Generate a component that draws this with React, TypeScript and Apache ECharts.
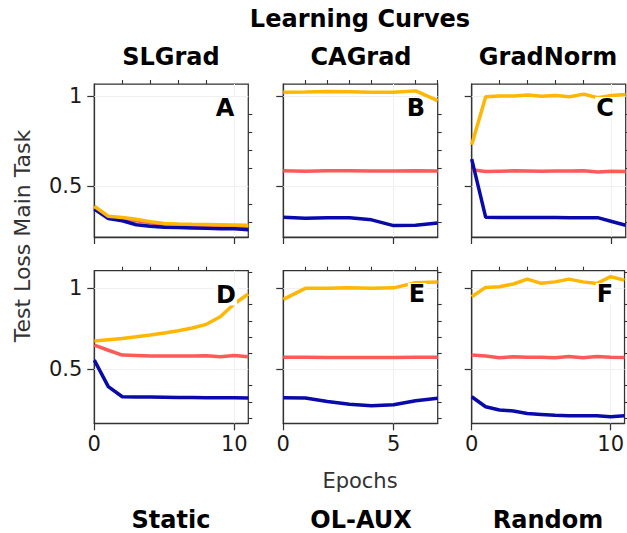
import React, { useEffect, useRef } from "react";
import * as echarts from "echarts";

const epochsLong = [0, 1, 2, 3, 4, 5, 6, 7, 8, 9, 10, 11];
const epochsShort = [0, 1, 2, 3, 4, 5, 6, 7];

const panelLetters = ["A", "B", "C", "D", "E", "F"];
const columnTitles = ["SLGrad", "CAGrad", "GradNorm"];
const rowTitles = ["Static", "OL-AUX", "Random"];

const yellowA = [0.39, 0.335, 0.328, 0.318, 0.305, 0.295, 0.292, 0.29, 0.289, 0.288, 0.287, 0.285];
const redA = [0.385, 0.33, 0.322, 0.31, 0.298, 0.288, 0.285, 0.283, 0.282, 0.281, 0.28, 0.278];
const blueA = [0.375, 0.322, 0.31, 0.288, 0.28, 0.274, 0.272, 0.27, 0.268, 0.265, 0.266, 0.26];

const yellowB = [1.021, 1.022, 1.024, 1.023, 1.021, 1.021, 1.028, 0.974];
const redB = [0.586, 0.584, 0.587, 0.586, 0.585, 0.585, 0.586, 0.585];
const blueB = [0.329, 0.324, 0.326, 0.326, 0.315, 0.283, 0.285, 0.298];

const yellowC = [0.73, 0.996, 1.0, 1.0, 1.005, 0.998, 1.003, 0.996, 1.01, 0.99, 1.003, 1.008];
const redC = [0.592, 0.582, 0.584, 0.586, 0.585, 0.584, 0.585, 0.585, 0.586, 0.58, 0.583, 0.582];
const blueC = [0.651, 0.329, 0.328, 0.328, 0.328, 0.328, 0.328, 0.327, 0.327, 0.327, 0.306, 0.285];

const yellowD = [0.675, 0.683, 0.691, 0.701, 0.712, 0.724, 0.738, 0.755, 0.778, 0.825, 0.905, 0.965];
const redD = [0.65, 0.618, 0.588, 0.585, 0.582, 0.582, 0.582, 0.583, 0.584, 0.578, 0.585, 0.578];
const blueD = [0.557, 0.393, 0.331, 0.33, 0.329, 0.328, 0.327, 0.326, 0.325, 0.325, 0.324, 0.323];

const yellowE = [0.932, 1.0, 1.0, 1.003, 1.0, 1.003, 1.035, 1.04];
const redE = [0.574, 0.574, 0.573, 0.573, 0.573, 0.573, 0.574, 0.574];
const blueE = [0.325, 0.323, 0.302, 0.284, 0.275, 0.281, 0.306, 0.321];

const yellowF = [0.948, 1.006, 1.01, 1.027, 1.057, 1.031, 1.04, 1.057, 1.04, 1.03, 1.072, 1.051];
const redF = [0.588, 0.583, 0.572, 0.578, 0.575, 0.574, 0.572, 0.58, 0.572, 0.579, 0.575, 0.573];
const blueF = [0.331, 0.269, 0.249, 0.243, 0.228, 0.222, 0.216, 0.214, 0.213, 0.213, 0.208, 0.214];

const majorYTicks = [0.5, 1];
const minorYTicksTop = [0.3, 0.4, 0.6, 0.7, 0.8, 0.9];
const minorYTicksBottom = [0.2, 0.3, 0.4, 0.6, 0.7, 0.8, 0.9, 1.1];
const majorXTicksLong = [0, 10];
const minorXTicksLong = [2, 4, 6, 8];
const majorXTicksShort = [0, 5];
const minorXTicksShort = [1, 2, 3, 4, 6, 7];

const YELLOW = "#ffb703";
const RED = "#ff5a5a";
const BLUE = "#0a0aaa";
const FONT = "DejaVu Sans";
const AXIS = "#333333";

type Panel = {
  x: number[];
  yellow: number[];
  red: number[];
  blue: number[];
  long: boolean;
};

const panels: Panel[] = [
  { x: epochsLong, yellow: yellowA, red: redA, blue: blueA, long: true },
  { x: epochsShort, yellow: yellowB, red: redB, blue: blueB, long: false },
  { x: epochsLong, yellow: yellowC, red: redC, blue: blueC, long: true },
  { x: epochsLong, yellow: yellowD, red: redD, blue: blueD, long: true },
  { x: epochsShort, yellow: yellowE, red: redE, blue: blueE, long: false },
  { x: epochsLong, yellow: yellowF, red: redF, blue: blueF, long: true },
];

const colLeft = [94.3, 283.3, 471.7];
const colWidth = [154, 154.4, 154];
const rowTop = [84, 270.7];
const rowHeight = [153, 152.6];
const rowMin = [0.22, 0.167];
const rowMax = [1.066, 1.109];
const letterPos = [
  [225, 107.5],
  [416, 107.5],
  [605, 107.5],
  [226, 295],
  [417, 293.5],
  [605, 293.5],
];

export default function App() {
  const ref = useRef<HTMLDivElement>(null);

  useEffect(() => {
    if (!ref.current) return;
    const chart = echarts.init(ref.current, undefined, { renderer: "svg" });

    const grid: any[] = [];
    const xAxis: any[] = [];
    const yAxis: any[] = [];
    const series: any[] = [];
    const graphic: any[] = [];

    panels.forEach((p, i) => {
      const row = Math.floor(i / 3);
      const col = i % 3;
      grid.push({
        left: colLeft[col],
        top: rowTop[row],
        width: colWidth[col],
        height: rowHeight[row],
        show: true,
        borderColor: AXIS,
        borderWidth: 1.25,
        backgroundColor: "transparent",
        containLabel: false,
      });
      const xMax = p.long ? 11 : 7;
      const majX = p.long ? majorXTicksLong : majorXTicksShort;
      const minX = p.long ? minorXTicksLong : minorXTicksShort;
      xAxis.push({
        type: "value",
        gridIndex: i,
        min: 0,
        max: xMax,
        axisLine: { show: true, onZero: false, lineStyle: { color: AXIS, width: 1.25 } },
        axisTick: { show: true, customValues: majX, length: 7, lineStyle: { color: AXIS, width: 1.25 } },
        axisLabel: {
          show: row === 1,
          customValues: majX,
          fontFamily: FONT,
          fontSize: 21,
          color: "#1a1a1a",
          margin: 10,
        },
        splitLine: { show: false },
      });
      xAxis.push({
        type: "value",
        gridIndex: i,
        min: 0,
        max: xMax,
        axisLine: { show: false, onZero: false },
        axisTick: { show: true, customValues: minX, length: 4, lineStyle: { color: AXIS, width: 1.1 } },
        axisLabel: { show: false },
        splitLine: { show: false },
      });
      const minY = row === 0 ? minorYTicksTop : minorYTicksBottom;
      yAxis.push({
        type: "value",
        gridIndex: i,
        min: rowMin[row],
        max: rowMax[row],
        axisLine: { show: true, onZero: false, lineStyle: { color: AXIS, width: 1.25 } },
        axisTick: { show: true, customValues: majorYTicks, length: 7, lineStyle: { color: AXIS, width: 1.25 } },
        axisLabel: {
          show: col === 0,
          customValues: majorYTicks,
          fontFamily: FONT,
          fontSize: 21,
          color: "#1a1a1a",
          margin: 12,
        },
        splitLine: { show: false },
      });
      yAxis.push({
        type: "value",
        gridIndex: i,
        min: rowMin[row],
        max: rowMax[row],
        axisLine: { show: false, onZero: false },
        axisTick: { show: true, customValues: minY, length: 4, lineStyle: { color: AXIS, width: 1.1 } },
        axisLabel: { show: false },
        splitLine: { show: false },
      });
      const xi = 2 * i;
      const yi = 2 * i;
      series.push({
        type: "line",
        xAxisIndex: xi,
        yAxisIndex: yi,
        data: [],
        silent: true,
        z: 1,
        markLine: {
          silent: true,
          z: 1,
          symbol: "none",
          label: { show: false },
          lineStyle: { color: "#f0f0f0", width: 1, type: "solid" },
          data: [{ xAxis: majX[1] }, { yAxis: 0.5 }, { yAxis: 1 }],
        },
      });
      const mk = (vals: number[], color: string, z: number) => ({
        type: "line",
        xAxisIndex: xi,
        yAxisIndex: yi,
        data: p.x.map((xv, k) => [xv, vals[k]]),
        showSymbol: false,
        symbol: "none",
        lineStyle: { color, width: 3.5 },
        itemStyle: { color },
        z,
        clip: true,
      });
      series.push(mk(p.red, RED, 2));
      series.push(mk(p.blue, BLUE, 3));
      series.push(mk(p.yellow, YELLOW, 4));

      graphic.push({
        type: "text",
        x: letterPos[i][0],
        y: letterPos[i][1],
        z: 100,
        style: {
          text: panelLetters[i],
          fontFamily: FONT,
          fontWeight: "bold",
          fontSize: 24,
          lineHeight: 21,
          fill: "#000",
          align: "center",
          verticalAlign: "middle",
          backgroundColor: "#fff",
          padding: [0, 1, 0, 1],
        },
      });
    });

    graphic.push({
      type: "text",
      x: 360,
      y: 19,
      style: { text: "Learning Curves", fontFamily: FONT, fontWeight: "bold", fontSize: 24, fill: "#000", align: "center", verticalAlign: "middle" },
    });
    const colCenters = [171, 361, 548];
    columnTitles.forEach((t, c) => {
      graphic.push({
        type: "text",
        x: colCenters[c],
        y: 57,
        style: { text: t, fontFamily: FONT, fontWeight: "bold", fontSize: 24, fill: "#000", align: "center", verticalAlign: "middle" },
      });
    });
    rowTitles.forEach((t, c) => {
      graphic.push({
        type: "text",
        x: colCenters[c],
        y: 520,
        style: { text: t, fontFamily: FONT, fontWeight: "bold", fontSize: 24, fill: "#000", align: "center", verticalAlign: "middle" },
      });
    });
    graphic.push({
      type: "text",
      x: 360,
      y: 481,
      style: { text: "Epochs", fontFamily: FONT, fontSize: 21, fill: "#333", align: "center", verticalAlign: "middle" },
    });
    graphic.push({
      type: "text",
      x: 22,
      y: 236,
      rotation: Math.PI / 2,
      style: { text: "Test Loss Main Task", fontFamily: FONT, fontSize: 22, fill: "#333", align: "center", verticalAlign: "middle" },
    });

    chart.setOption({
      animation: false,
      backgroundColor: "#fff",
      grid,
      xAxis,
      yAxis,
      series,
      graphic,
    });

    return () => chart.dispose();
  }, []);

  return (
    <div
      ref={ref}
      style={{ position: "fixed", left: 0, top: 0, width: 627, height: 533 }}
    />
  );
}
